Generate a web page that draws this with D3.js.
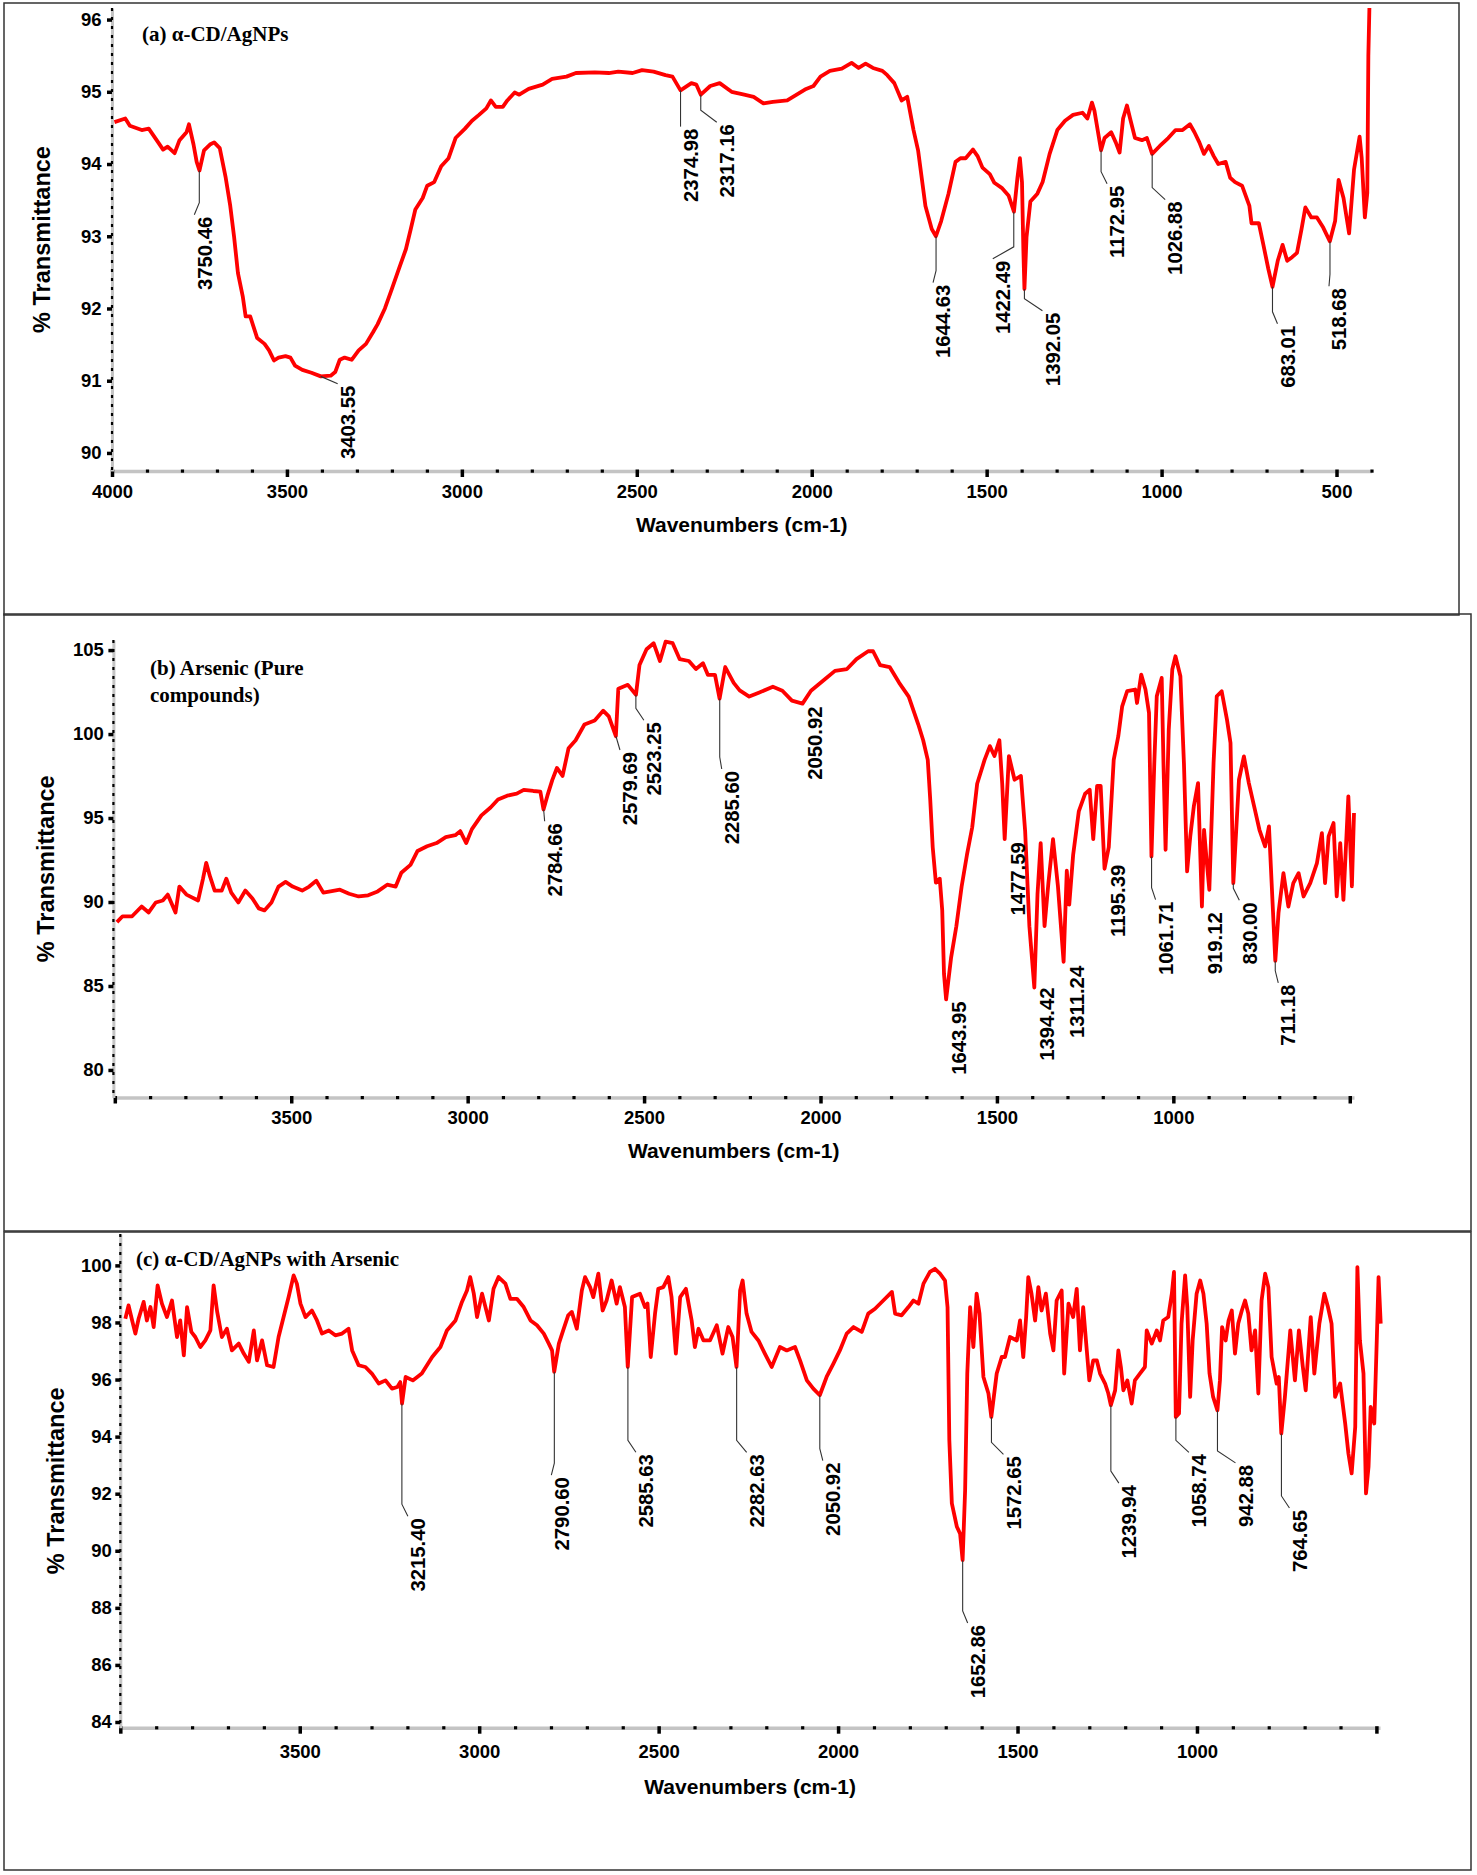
<!DOCTYPE html>
<html>
<head>
<meta charset="utf-8">
<script src="https://cdn.jsdelivr.net/npm/d3@7"></script>
<style>
  body { margin: 0; background: #fff; }
</style>
</head>
<body>
<svg id="fig" width="1477" height="1875"></svg>
<script>
// ---- spectrum (a) alpha-CD/AgNPs : [wavenumber, %T]
var spectrumA = [
  [3993,94.58],[3962,94.63],[3949,94.53],[3915,94.47],[3895,94.49],[3868,94.30],[3854,94.20],[3841,94.24],
  [3821,94.15],[3807,94.33],[3787,94.44],[3780,94.55],[3767,94.27],[3758,94.03],[3750,93.91],[3737,94.19],
  [3720,94.27],[3708,94.30],[3692,94.22],[3675,93.81],[3662,93.42],[3651,92.99],[3640,92.49],[3626,92.16],
  [3618,91.89],[3605,91.89],[3585,91.59],[3564,91.51],[3551,91.42],[3537,91.28],[3524,91.32],[3504,91.34],
  [3490,91.32],[3477,91.21],[3456,91.15],[3430,91.11],[3403,91.06],[3375,91.07],[3362,91.12],[3349,91.29],
  [3335,91.32],[3315,91.29],[3295,91.42],[3274,91.51],[3254,91.67],[3241,91.78],[3220,92.00],[3200,92.27],
  [3180,92.55],[3160,92.82],[3146,93.10],[3133,93.37],[3112,93.53],[3099,93.70],[3079,93.75],[3059,93.97],
  [3038,94.08],[3018,94.36],[2991,94.49],[2971,94.60],[2951,94.68],[2930,94.77],[2917,94.88],[2903,94.79],
  [2883,94.79],[2870,94.88],[2849,94.99],[2836,94.96],[2809,95.04],[2769,95.10],[2742,95.18],[2701,95.21],
  [2674,95.26],[2620,95.27],[2580,95.26],[2553,95.28],[2512,95.26],[2485,95.30],[2452,95.28],[2418,95.23],
  [2398,95.21],[2375,95.02],[2344,95.12],[2330,95.10],[2317,94.96],[2290,95.08],[2263,95.12],[2229,95.00],
  [2193,94.96],[2166,94.93],[2138,94.84],[2111,94.86],[2070,94.88],[2043,94.96],[2016,95.04],[1995,95.08],
  [1975,95.21],[1948,95.29],[1914,95.32],[1886,95.40],[1866,95.33],[1846,95.39],[1825,95.33],[1798,95.29],
  [1784,95.23],[1764,95.12],[1743,94.88],[1727,94.93],[1709,94.47],[1696,94.19],[1675,93.42],[1657,93.10],
  [1645,93.00],[1630,93.21],[1609,93.59],[1589,94.03],[1575,94.08],[1560,94.08],[1539,94.20],[1526,94.11],
  [1512,93.95],[1491,93.86],[1478,93.74],[1457,93.67],[1437,93.56],[1422,93.34],[1412,93.81],[1405,94.08],
  [1399,93.75],[1395,92.80],[1392,92.27],[1386,92.99],[1375,93.48],[1355,93.59],[1340,93.75],[1320,94.14],
  [1298,94.47],[1276,94.60],[1253,94.68],[1226,94.71],[1212,94.63],[1199,94.85],[1192,94.74],[1173,94.19],
  [1163,94.36],[1144,94.44],[1131,94.30],[1120,94.16],[1110,94.63],[1099,94.81],[1090,94.63],[1076,94.36],
  [1056,94.33],[1042,94.36],[1027,94.14],[1005,94.25],[981,94.36],[960,94.47],[940,94.47],[919,94.55],
  [906,94.44],[892,94.30],[879,94.14],[865,94.25],[851,94.11],[838,94.00],[817,94.03],[804,93.81],
  [790,93.75],[770,93.70],[749,93.42],[743,93.18],[722,93.18],[709,92.88],[695,92.55],[683,92.30],
  [668,92.66],[654,92.88],[641,92.66],[627,92.71],[613,92.77],[600,93.10],[589,93.40],[572,93.26],
  [556,93.26],[538,93.12],[519,92.93],[504,93.21],[494,93.78],[480,93.53],[464,93.04],[450,93.92],
  [434,94.38],[428,94.08],[419,93.26],[412,93.60],[409,95.50],[406,96.16]
];

// ---- spectrum (b) Arsenic (pure compounds)
var spectrumB = [
  [3994,88.80],[3978,89.15],[3951,89.15],[3924,89.73],[3904,89.38],[3884,89.97],[3864,90.09],[3850,90.44],
  [3828,89.38],[3817,90.92],[3797,90.44],[3764,90.09],[3750,91.39],[3741,92.33],[3730,91.51],[3717,90.68],
  [3697,90.68],[3684,91.39],[3670,90.56],[3650,89.97],[3630,90.68],[3610,90.21],[3592,89.62],[3576,89.50],
  [3556,89.97],[3536,90.92],[3516,91.20],[3496,90.92],[3469,90.68],[3449,90.92],[3429,91.27],[3409,90.56],
  [3389,90.63],[3362,90.73],[3336,90.49],[3309,90.33],[3282,90.40],[3255,90.63],[3228,91.03],[3204,90.92],
  [3188,91.74],[3162,92.21],[3142,93.04],[3115,93.32],[3088,93.51],[3062,93.86],[3035,93.98],[3021,94.22],
  [3004,93.51],[2988,94.34],[2961,95.16],[2935,95.63],[2914,96.10],[2888,96.33],[2861,96.45],[2841,96.68],
  [2814,96.61],[2794,96.57],[2785,95.51],[2774,96.33],[2760,97.27],[2747,97.98],[2731,97.51],[2714,99.16],
  [2694,99.63],[2669,100.57],[2640,100.81],[2616,101.39],[2600,101.05],[2580,99.87],[2573,102.70],[2546,102.93],
  [2523,102.34],[2513,104.11],[2493,105.05],[2473,105.41],[2455,104.35],[2439,105.50],[2419,105.41],[2399,104.46],
  [2373,104.35],[2353,103.87],[2333,104.22],[2319,103.52],[2299,103.52],[2286,102.11],[2270,103.99],[2246,103.05],
  [2229,102.60],[2202,102.23],[2175,102.46],[2135,102.82],[2108,102.58],[2081,101.99],[2051,101.81],[2027,102.58],
  [1986,103.29],[1959,103.76],[1925,103.87],[1898,104.46],[1865,104.93],[1851,104.93],[1831,104.11],[1804,103.99],
  [1777,103.05],[1750,102.23],[1723,100.58],[1709,99.63],[1696,98.46],[1689,96.10],[1682,93.27],[1673,91.15],
  [1662,91.39],[1655,89.50],[1650,85.73],[1644,84.20],[1630,86.67],[1615,88.56],[1600,90.92],[1585,92.80],
  [1570,94.45],[1556,97.04],[1535,98.46],[1520,99.28],[1507,98.69],[1493,99.63],[1485,97.04],[1478,93.74],
  [1466,98.69],[1450,97.28],[1432,97.51],[1420,94.21],[1408,88.56],[1394,84.91],[1385,90.45],[1376,93.51],
  [1365,88.56],[1354,91.15],[1341,93.74],[1327,90.92],[1311,86.44],[1302,91.86],[1295,89.85],[1284,92.80],
  [1268,95.39],[1250,96.45],[1237,96.68],[1227,93.74],[1216,96.92],[1206,96.92],[1195,91.98],[1183,93.27],
  [1169,98.46],[1156,99.87],[1145,101.65],[1131,102.55],[1108,102.65],[1103,101.85],[1091,103.54],[1079,102.65],
  [1069,101.26],[1062,92.71],[1054,98.28],[1047,102.25],[1033,103.34],[1028,98.28],[1022,93.11],[1013,100.26],
  [1003,103.84],[994,104.63],[980,103.44],[970,98.28],[961,91.82],[952,93.91],[942,95.69],[930,97.08],
  [919,89.73],[913,94.30],[905,92.32],[898,90.73],[886,98.28],[877,102.25],[863,102.55],[848,100.86],
  [838,99.47],[830,91.12],[814,97.28],[800,98.67],[786,97.08],[771,95.69],[756,94.30],[740,93.31],
  [729,94.50],[711,86.50],[702,89.34],[688,91.72],[674,89.73],[660,91.12],[645,91.72],[631,90.33],
  [612,91.12],[593,92.32],[579,94.10],[570,91.12],[560,93.91],[546,94.70],[537,90.33],[527,93.51],
  [518,90.13],[504,96.29],[494,90.93],[488,95.30]
];

// ---- spectrum (c) alpha-CD/AgNPs with Arsenic
var spectrumC = [
  [3986,98.13],[3977,98.60],[3967,98.07],[3958,97.61],[3949,98.13],[3935,98.72],[3926,98.07],[3916,98.54],
  [3907,97.84],[3896,99.30],[3884,98.66],[3870,98.19],[3856,98.77],[3842,97.49],[3833,98.07],[3823,96.85],
  [3814,98.54],[3802,97.67],[3791,97.49],[3777,97.14],[3763,97.37],[3749,97.72],[3740,99.30],[3730,98.37],
  [3717,97.49],[3703,97.78],[3689,97.02],[3670,97.26],[3656,96.91],[3642,96.62],[3628,97.72],[3619,96.67],
  [3605,97.37],[3591,96.50],[3573,96.44],[3559,97.49],[3545,98.19],[3531,98.89],[3517,99.65],[3508,99.36],
  [3498,98.66],[3484,98.19],[3466,98.42],[3452,98.07],[3438,97.61],[3419,97.72],[3401,97.55],[3382,97.61],
  [3364,97.78],[3354,97.02],[3336,96.50],[3317,96.44],[3299,96.21],[3280,95.86],[3261,95.97],[3243,95.68],
  [3228,95.74],[3220,95.91],[3215,95.16],[3205,96.09],[3185,95.97],[3160,96.21],[3131,96.79],[3108,97.14],
  [3090,97.72],[3066,98.07],[3048,98.72],[3034,99.12],[3025,99.59],[3015,99.01],[3006,98.19],[2992,99.01],
  [2973,98.07],[2960,99.18],[2946,99.59],[2927,99.36],[2913,98.83],[2895,98.83],[2876,98.54],[2857,98.07],
  [2839,97.90],[2820,97.61],[2806,97.26],[2797,97.02],[2791,96.27],[2778,97.26],[2766,97.72],[2752,98.25],
  [2742,98.37],[2728,97.78],[2714,99.12],[2705,99.59],[2691,99.24],[2682,98.89],[2668,99.71],[2656,98.42],
  [2645,98.77],[2631,99.47],[2617,98.66],[2608,99.24],[2594,98.54],[2586,96.44],[2574,98.89],[2552,99.01],
  [2538,98.54],[2531,98.66],[2522,96.79],[2510,98.31],[2501,99.18],[2487,99.24],[2473,99.59],[2464,98.89],
  [2452,96.91],[2440,98.89],[2424,99.18],[2408,98.07],[2399,97.14],[2389,97.78],[2375,97.37],[2357,97.37],
  [2338,97.90],[2322,96.91],[2306,97.84],[2294,97.49],[2283,96.44],[2273,99.12],[2266,99.47],[2255,98.31],
  [2241,97.67],[2222,97.37],[2204,96.91],[2185,96.44],[2162,97.14],[2143,97.02],[2120,97.14],[2106,96.67],
  [2087,95.97],[2069,95.68],[2051,95.45],[2032,96.09],[2013,96.56],[1995,97.02],[1976,97.61],[1957,97.84],
  [1934,97.67],[1916,98.31],[1897,98.48],[1874,98.77],[1850,99.07],[1841,98.31],[1823,98.25],[1804,98.54],
  [1790,98.77],[1776,98.66],[1762,99.36],[1744,99.77],[1730,99.88],[1716,99.71],[1702,99.47],[1695,98.54],
  [1690,93.87],[1683,91.66],[1669,90.84],[1660,90.60],[1653,89.67],[1646,92.12],[1640,96.21],[1632,98.54],
  [1623,97.14],[1614,99.01],[1606,98.31],[1595,96.09],[1581,95.51],[1573,94.69],[1558,96.21],[1544,96.79],
  [1535,96.79],[1521,97.49],[1502,97.37],[1493,98.07],[1484,96.79],[1476,98.19],[1470,99.59],[1461,99.01],
  [1451,98.07],[1442,99.24],[1433,98.42],[1421,99.01],[1409,97.61],[1400,97.02],[1391,98.77],[1377,99.12],
  [1370,96.21],[1358,98.66],[1345,98.19],[1335,99.18],[1326,97.02],[1317,98.54],[1307,97.02],[1300,95.97],
  [1289,96.67],[1279,96.67],[1270,96.21],[1256,95.86],[1247,95.51],[1240,95.10],[1228,95.62],[1219,97.02],
  [1212,96.44],[1205,95.62],[1194,95.97],[1182,95.16],[1173,95.97],[1159,96.21],[1145,96.44],[1140,97.72],
  [1126,97.26],[1112,97.72],[1103,97.37],[1094,98.07],[1080,98.19],[1070,99.01],[1064,99.77],[1059,94.69],
  [1050,94.81],[1043,97.96],[1033,99.65],[1027,98.54],[1019,95.39],[1012,97.37],[1001,99.01],[991,99.47],
  [982,99.01],[973,97.96],[965,96.21],[955,95.39],[943,94.92],[936,95.97],[930,97.84],[920,97.37],
  [912,98.07],[903,98.42],[894,96.91],[885,97.96],[875,98.42],[866,98.77],[857,98.31],[848,97.02],
  [838,97.72],[829,95.51],[820,98.77],[810,99.71],[801,99.24],[792,96.79],[778,95.86],[772,96.09],
  [765,94.11],[755,95.39],[740,97.72],[727,95.97],[716,97.72],[705,96.44],[697,95.62],[683,98.19],
  [673,96.21],[659,97.96],[645,99.01],[635,98.54],[625,97.96],[615,95.39],[601,95.86],[587,94.46],
  [578,93.41],[569,92.71],[559,94.34],[553,99.94],[546,97.37],[536,96.21],[529,92.01],[522,92.94],
  [516,95.04],[506,94.46],[499,97.37],[494,99.59],[488,97.96]
];

// ---- labelled peaks (wavenumber) and %T at the peak
var peaksA = [3750.46, 3403.55, 2374.98, 2317.16, 1644.63, 1422.49, 1392.05, 1172.95, 1026.88, 683.01, 518.68];
var peakTA = [93.91, 91.06, 95.02, 94.96, 93.00, 93.34, 92.27, 94.19, 94.14, 92.30, 92.93];
var peaksB = [2784.66, 2579.69, 2523.25, 2285.60, 2050.92, 1643.95, 1477.59, 1394.42, 1311.24, 1195.39, 1061.71, 919.12, 830.00, 711.18];
var peakTB = [95.51, 99.87, 102.34, 102.11, 101.81, 84.20, 93.74, 84.91, 86.44, 91.98, 92.71, 89.73, 91.12, 86.50];
var peaksC = [3215.40, 2790.60, 2585.63, 2282.63, 2050.92, 1652.86, 1572.65, 1239.94, 1058.74, 942.88, 764.65];
var peakTC = [95.16, 96.27, 96.44, 96.44, 95.45, 89.67, 94.69, 95.10, 94.69, 94.92, 94.11];

// ---- tick values
var xTickLabelsA = [4000, 3500, 3000, 2500, 2000, 1500, 1000, 500];
var xTickLabelsB = [3500, 3000, 2500, 2000, 1500, 1000];
var xTickLabelsC = [3500, 3000, 2500, 2000, 1500, 1000];
var yTicksA = [90, 91, 92, 93, 94, 95, 96];
var yTicksB = [80, 85, 90, 95, 100, 105];
var yTicksC = [84, 86, 88, 90, 92, 94, 96, 98, 100];

var titleA = ['(a) \u03b1-CD/AgNPs'];
var titleB = ['(b) Arsenic (Pure', 'compounds)'];
var titleC = ['(c) \u03b1-CD/AgNPs with Arsenic'];

// ---- label placement (top of the rotated label in %T, horizontal shift in px)
var labelTopA = [93.27, 90.93, 94.49, 94.55, 92.33, 92.66, 91.94, 93.70, 93.48, 91.76, 92.28];
var labelDxA  = [5, 27, 10, 26, 7, -11, 28, 16, 23, 15, 9];
var labelTopB = [94.69, 98.93, 100.70, 97.80, 101.64, 84.08, 93.56, 84.91, 86.20, 92.22, 90.02, 89.39, 89.98, 85.07];
var labelDxB  = [11, 14, 18, 12, 12, 13, 13, 13, 13, 13, 14, 13, 16, 13];
var labelTopC = [91.14, 92.58, 93.38, 93.38, 93.09, 87.40, 93.31, 92.30, 93.38, 93.01, 91.43];
var labelDxC  = [16, 7, 18, 20, 13, 15, 22, 18, 23, 28, 18];

var SANS = 'Liberation Sans, Arial, sans-serif';
var SERIF = 'Liberation Serif, Times New Roman, serif';
var svg = d3.select('#fig');

var panels = [
  { data: spectrumA, peaks: peaksA, peakT: peakTA, labTop: labelTopA, labDx: labelDxA, title: titleA,
    xLabels: xTickLabelsA, yTicks: yTicksA,
    box: [4, 3, 1459, 615], xDomain: [4000, 400], xRange: [112, 1371.5], yDomain: [89.75, 96.16], yRange: [471, 8],
    xPad: 8, yPad: 5.5, yTitleX: 41.5, xTitleY: 532, titleX: 142, titleY: 41 },
  { data: spectrumB, peaks: peaksB, peakT: peakTB, labTop: labelTopB, labDx: labelDxB, title: titleB,
    xLabels: xTickLabelsB, yTicks: yTicksB,
    box: [4, 614, 1471, 1231], xDomain: [4004, 488], xRange: [113.4, 1354], yDomain: [78.36, 105.6], yRange: [1097.5, 640],
    xPad: 7.2, yPad: 4.5, yTitleX: 46, xTitleY: 1157.5, titleX: 150, titleY: 675 },
  { data: spectrumC, peaks: peaksC, peakT: peakTC, labTop: labelTopC, labDx: labelDxC, title: titleC,
    xLabels: xTickLabelsC, yTicks: yTicksC,
    box: [4, 1232, 1471, 1870], xDomain: [4000, 490], xRange: [120.3, 1380], yDomain: [83.8, 101.1], yRange: [1727.7, 1234],
    xPad: 10.8, yPad: 3.5, yTitleX: 56, xTitleY: 1793.5, titleX: 136, titleY: 1266 }
];

panels.forEach(drawPanel);

function drawPanel(p) {
  var g = svg.append('g');
  var x = d3.scaleLinear().domain(p.xDomain).range(p.xRange);
  var y = d3.scaleLinear().domain(p.yDomain).range(p.yRange);
  var x0 = p.xRange[0], x1 = p.xRange[1], yb = p.yRange[0], yt = p.yRange[1];

  // frame round the panel
  g.append('rect')
    .attr('x', p.box[0]).attr('y', p.box[1])
    .attr('width', p.box[2] - p.box[0]).attr('height', p.box[3] - p.box[1])
    .attr('fill', 'none').attr('stroke', '#333').attr('stroke-width', 1.5);

  // x axis: major ticks every 500, dots every 100
  var lo = Math.min(p.xDomain[0], p.xDomain[1]), hi = Math.max(p.xDomain[0], p.xDomain[1]);
  var majors = d3.range(500, 4001, 500).filter(function (v) { return v >= lo && v <= hi; });
  var minors = d3.range(400, 4001, 100).filter(function (v) { return v >= lo && v <= hi && v % 500 !== 0; });

  var ax = g.append('g').attr('transform', 'translate(0,' + yb + ')')
    .call(d3.axisBottom(x).tickValues(majors).tickSize(6).tickSizeOuter(0).tickPadding(p.xPad)
      .tickFormat(function (d) { return p.xLabels.indexOf(d) >= 0 ? d : ''; }));
  ax.select('.domain').attr('stroke', '#c4c4c4').attr('stroke-width', 3.5);
  ax.selectAll('.tick line').attr('stroke', '#000').attr('stroke-width', 3.5).attr('y1', -1.5);
  ax.selectAll('.tick text').attr('fill', '#000').attr('font-family', SANS)
    .attr('font-weight', 'bold').attr('font-size', 18.5);

  var axm = g.append('g').attr('transform', 'translate(0,' + (yb - 1.5) + ')')
    .call(d3.axisBottom(x).tickValues(minors).tickSize(3.2).tickSizeOuter(0).tickFormat(''));
  axm.select('.domain').remove();
  axm.selectAll('.tick line').attr('stroke', '#000').attr('stroke-width', 3.2);

  // y axis: grey line with black dashes
  var ay = g.append('g').attr('transform', 'translate(' + x0 + ',0)')
    .call(d3.axisLeft(y).tickValues(p.yTicks).tickSize(5).tickSizeOuter(0).tickPadding(p.yPad)
      .tickFormat(d3.format('d')));
  ay.select('.domain').attr('stroke', '#c4c4c4').attr('stroke-width', 3);
  ay.selectAll('.tick line').attr('stroke', '#000').attr('stroke-width', 3.5);
  ay.selectAll('.tick text').attr('fill', '#000').attr('font-family', SANS)
    .attr('font-weight', 'bold').attr('font-size', 18.5);
  g.append('line').attr('x1', x0).attr('x2', x0).attr('y1', yt).attr('y2', yb)
    .attr('stroke', '#000').attr('stroke-width', 2.2).attr('stroke-dasharray', '3,6');

  // axis titles
  g.append('text')
    .attr('transform', 'translate(' + p.yTitleX + ',' + ((yt + yb) / 2) + ') rotate(-90)')
    .attr('text-anchor', 'middle').attr('dominant-baseline', 'central')
    .attr('font-family', SANS).attr('font-weight', 'bold').attr('font-size', 23.5)
    .text('% Transmittance');
  g.append('text')
    .attr('x', (x0 + x1) / 2).attr('y', p.xTitleY)
    .attr('text-anchor', 'middle')
    .attr('font-family', SANS).attr('font-weight', 'bold').attr('font-size', 21)
    .text('Wavenumbers (cm-1)');

  // panel title
  p.title.forEach(function (t, i) {
    g.append('text').attr('x', p.titleX).attr('y', p.titleY + i * 27)
      .attr('font-family', SERIF).attr('font-weight', 'bold').attr('font-size', 21)
      .text(t);
  });

  // spectrum
  var line = d3.line().x(function (d) { return x(d[0]); }).y(function (d) { return y(d[1]); });
  g.append('path').datum(p.data)
    .attr('d', line)
    .attr('fill', 'none').attr('stroke', '#ff0000').attr('stroke-width', 3.8)
    .attr('stroke-linejoin', 'round');

  // peak labels with leader lines
  p.peaks.forEach(function (w, i) {
    var px = x(w), py = y(p.peakT[i]);
    var lx = px + p.labDx[i], ly = y(p.labTop[i]);
    var ex = lx - 10, ey = ly - 2;
    var pts;
    if (ey - py > 4) {
      var knee = ly - 14;
      pts = knee > py + 2 ? [[px, py], [px, knee], [ex, ey]] : [[px, py], [ex, ey]];
      g.append('path').attr('d', d3.line()(pts))
        .attr('fill', 'none').attr('stroke', '#333').attr('stroke-width', 1.1);
    }
    g.append('text')
      .attr('transform', 'translate(' + (lx + 7.2) + ',' + ly + ') rotate(-90)')
      .attr('text-anchor', 'end')
      .attr('font-family', SANS).attr('font-weight', 'bold').attr('font-size', 20.3)
      .attr('fill', '#000')
      .text(w.toFixed(2));
  });
}
</script>
</body>
</html>
